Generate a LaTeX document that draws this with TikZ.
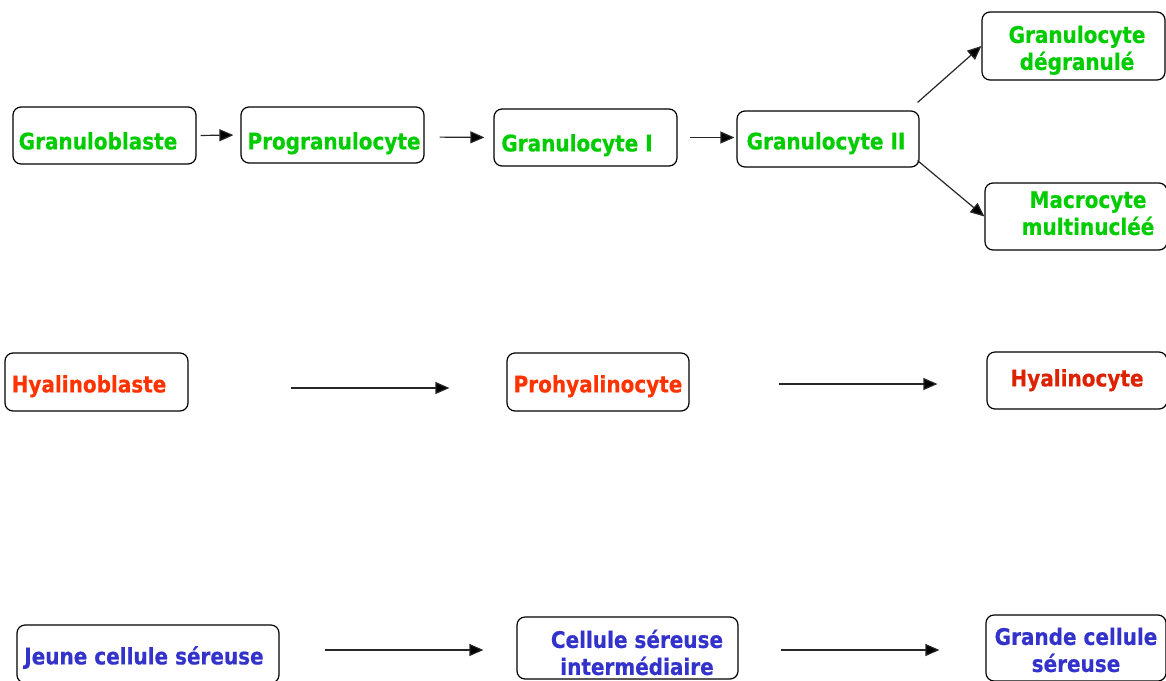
\documentclass[tikz,border=0pt]{standalone}
\usepackage{fontspec}
\setmainfont{DejaVu Sans}[BoldFeatures={FakeBold=0.6}]
\usetikzlibrary{arrows.meta}
\definecolor{granul}{HTML}{00CC00}
\definecolor{hyalA}{HTML}{FF3300}
\definecolor{hyalB}{HTML}{DD2200}
\definecolor{sereuse}{HTML}{3333CC}
% labels are set a little taller than wide
\newcommand\celllabel[1]{\scalebox{1}[1.14]{\begin{tabular}{@{}c@{}}#1\end{tabular}}}
\tikzset{
  cellbox/.style={draw=black, line width=1.2pt, rounded corners=8pt, inner sep=0pt, fill=none},
  lbl/.style={inner sep=0pt, yshift=-3pt, font=\bfseries\fontsize{20}{23.7}\selectfont},
  gtxt/.style={lbl, text=granul},
  rtxt/.style={lbl, text=hyalA},
  rdtxt/.style={lbl, text=hyalB},
  btxt/.style={lbl, text=sereuse},
  arr/.style={line width=1.2pt, draw=black!85, -{Triangle[length=14pt,width=12pt,fill=black]}}
}
\begin{document}
\begin{tikzpicture}[x=1pt,y=-1pt]
\useasboundingbox (0,0) rectangle (1166,680);

% granulocyte line
\node[cellbox, minimum width=183pt, minimum height=57pt] (gb) at (104.5,135.5) {};
\node[cellbox, minimum width=183pt, minimum height=56pt] (pg) at (332.5,135) {};
\node[cellbox, minimum width=183pt, minimum height=57pt] (g1) at (585.5,137.5) {};
\node[cellbox, minimum width=182pt, minimum height=56pt] (g2) at (828,139) {};
\node[cellbox, minimum width=183pt, minimum height=68pt] (gd) at (1073.5,46) {};
\node[cellbox, minimum width=182pt, minimum height=67pt] (mm) at (1076,216.5) {};

\node[gtxt] (gbt) at (98,141) {\celllabel{Granuloblaste}};
\node[gtxt] (pgt) at (334,141) {\celllabel{Progranulocyte}};
\node[gtxt] (g1t) at (577,143) {\celllabel{Granulocyte I}};
\node[gtxt] (g2t) at (826,141) {\celllabel{Granulocyte II}};
\node[gtxt] (gdt) at (1077,48) {\celllabel{Granulocyte\\dégranulé}};
\node[gtxt] (mmt) at (1088,213) {\celllabel{Macrocyte\\multinucléé}};

\draw[arr, shorten <=4pt, shorten >=7pt] (gb.east) -- (pg.west);
\draw[arr, shorten <=15pt, shorten >=9pt] ([yshift=-2pt]pg.east) -- (g1.west);
\draw[arr, shorten <=12pt, shorten >=2pt] (g1.east) -- ([yshift=1.5pt]g2.west);
\draw[arr] ([shift={(-2pt,8pt)}]g2.north east) -- (gd.west);
\draw[arr] ([shift={(-2pt,7pt)}]g2.south east) -- (mm.west);

% hyalinocyte line
\node[cellbox, minimum width=183pt, minimum height=58pt] (hb) at (96.5,382) {};
\node[cellbox, minimum width=182pt, minimum height=58pt] (ph) at (598,382) {};
\node[cellbox, minimum width=180pt, minimum height=57pt] (hc) at (1077,380.5) {};

\node[rtxt] (hbt) at (89,384) {\celllabel{Hyalinoblaste}};
\node[rtxt] (pht) at (598,384) {\celllabel{Prohyalinocyte}};
\node[rdtxt] (hct) at (1077,378) {\celllabel{Hyalinocyte}};

\draw[arr, shorten <=102pt, shorten >=57pt] ([yshift=-6pt]hb.east) -- ([yshift=-6pt]ph.west);
\draw[arr, shorten <=89pt, shorten >=49pt] ([yshift=-2pt]ph.east) -- ([yshift=-3.5pt]hc.west);

% serous cell line
\node[cellbox, minimum width=262pt, minimum height=58pt] (jc) at (148,654) {};
\node[cellbox, minimum width=221pt, minimum height=62pt] (ci) at (627.5,648) {};
\node[cellbox, minimum width=180pt, minimum height=66pt] (gc) at (1076,648) {};

\node[btxt] (jct) at (144,656) {\celllabel{Jeune cellule séreuse}};
\node[btxt] (cit) at (637,653) {\celllabel{Cellule séreuse\\intermédiaire}};
\node[btxt] (gct) at (1076,650) {\celllabel{Grande cellule\\séreuse}};

\draw[arr, shorten <=45pt, shorten >=33pt] ([yshift=4pt]jc.east) -- ([yshift=-2pt]ci.west);
\draw[arr, shorten <=42pt, shorten >=46pt] ([yshift=-2pt]ci.east) -- ([yshift=-2pt]gc.west);
\end{tikzpicture}
\end{document}
